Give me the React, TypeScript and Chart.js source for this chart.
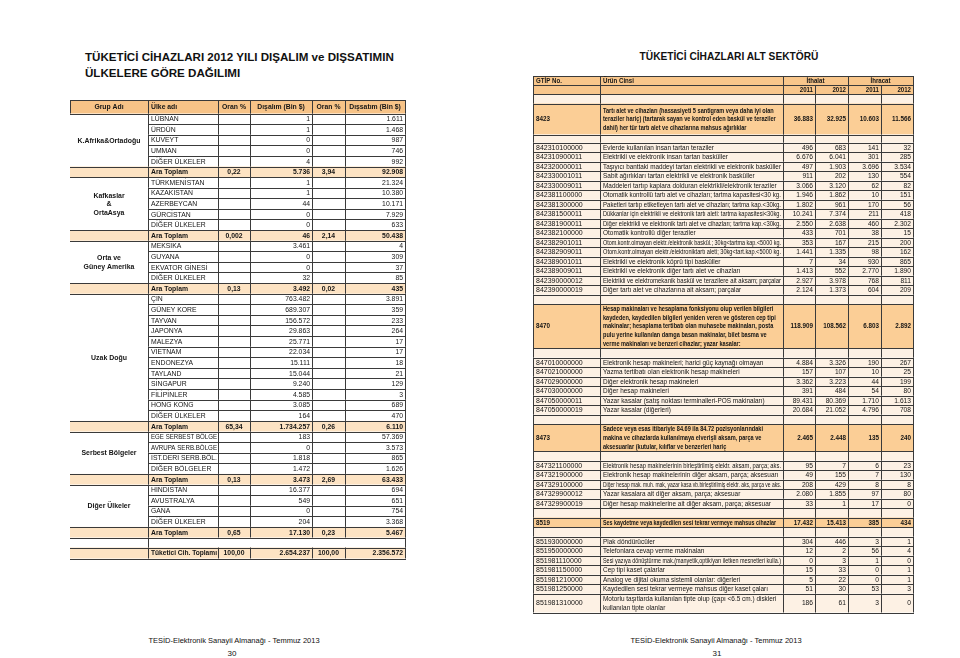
import React, { useEffect, useRef } from 'react';
import { Chart, registerables } from 'chart.js';
Chart.register(...registerables);

const FONT = '"Liberation Sans", Arial, Helvetica, sans-serif';

// ---------------- Left table data ----------------
const leftHeaders = ['Grup Adı', 'Ülke adı', 'Oran %', 'Dışalım (Bin $)', 'Oran %', 'Dışsatım (Bin $)'];
const groupLabels = [['K.Afrika&Ortadoğu'], ['Kafkaslar', '&', 'OrtaAsya'], ['Orta ve', 'Güney Amerika'], ['Uzak Doğu'], ['Serbest Bölgeler'], ['Diğer Ülkeler']];

const g1Countries = ['LÜBNAN', 'ÜRDÜN', 'KUVEYT', 'UMMAN', 'DİĞER ÜLKELER'];
const g1Import = [1, 1, 0, 0, 4];
const g1Export = [1611, 1468, 987, 746, 992];

const g2Countries = ['TÜRKMENİSTAN', 'KAZAKİSTAN', 'AZERBEYCAN', 'GÜRCİSTAN', 'DİĞER ÜLKELER'];
const g2Import = [1, 1, 44, 0, 0];
const g2Export = [21324, 10380, 10171, 7929, 633];

const g3Countries = ['MEKSİKA', 'GUYANA', 'EKVATOR GİNESİ', 'DİĞER ÜLKELER'];
const g3Import = [3461, 0, 0, 32];
const g3Export = [4, 309, 37, 85];

const g4Countries = ['ÇİN', 'GÜNEY KORE', 'TAYVAN', 'JAPONYA', 'MALEZYA', 'VİETNAM', 'ENDONEZYA', 'TAYLAND', 'SİNGAPUR', 'FİLİPİNLER', 'HONG KONG', 'DİĞER ÜLKELER'];
const g4Import = [763482, 689307, 156572, 29863, 25771, 22034, 15111, 15044, 9240, 4585, 3085, 164];
const g4Export = [3891, 359, 233, 264, 17, 17, 18, 21, 129, 3, 689, 470];

const g5Countries = ['EGE SERBEST BÖLGE', 'AVRUPA SERB.BÖLGE', 'İST.DERİ SERB.BÖL.', 'DİĞER BÖLGELER'];
const g5Import = [183, 0, 1818, 1472];
const g5Export = [57369, 3573, 865, 1626];

const g6Countries = ['HİNDİSTAN', 'AVUSTRALYA', 'GANA', 'DİĞER ÜLKELER'];
const g6Import = [16377, 549, 0, 204];
const g6Export = [694, 651, 754, 3368];

const subtotalLabel = 'Ara Toplam';
const subImportShare = [0.22, 0.002, 0.13, 65.34, 0.13, 0.65];
const subImport = [5736, 46, 3492, 1734257, 3473, 17130];
const subExportShare = [3.94, 2.14, 0.02, 0.26, 2.69, 0.23];
const subExport = [92908, 50438, 435, 6110, 63433, 5467];

const totalLabel = 'Tüketici Cih. Toplamı';
const totalImportShare = 100;
const totalImport = 2654237;
const totalExportShare = 100;
const totalExport = 2356572;

// ---------------- Right table data ----------------
const rightHeaders = ['GTİP No.', 'Ürün Cinsi', 'İthalat', 'İhracat'];
const yearLabels = ['2011', '2012', '2011', '2012'];

const sectionCodes = ['8423', '8470', '8473', '8519'];
const sectionTitles = [
  ['Tartı alet ve cihazları (hassasiyeti 5 santigram veya daha iyi olan', 'teraziler hariç) (tartarak sayan ve kontrol eden baskül ve teraziler', 'dahil) her tür tartı alet ve cihazlarına mahsus ağırlıklar'],
  ['Hesap makinaları ve hesaplama fonksiyonu olup verilen bilgileri', 'kaydeden, kaydedilen bilgileri yeniden veren ve gösteren cep tipi', 'makinalar; hesaplama tertibatı olan muhasebe makinaları, posta', 'pulu yerine kullanılan damga basan makinalar, bilet basma ve', 'verme makinaları ve benzeri cihazlar; yazar kasalar:'],
  ['Sadece veya esas itibariyle 84.69 ila 84.72 pozisyonlarındaki', 'makina ve cihazlarda kullanılmaya elverişli aksam, parça ve', 'aksesuarlar (kutular, kılıflar ve benzerleri hariç'],
  ['Ses kaydetme veya kaydedilen sesi tekrar vermeye mahsus cihazlar'],
];
const sectionImp2011 = [36883, 118909, 2465, 17432];
const sectionImp2012 = [32925, 108562, 2448, 15413];
const sectionExp2011 = [10603, 6803, 135, 385];
const sectionExp2012 = [11566, 2892, 240, 434];

const s8423Codes = ['842310100000', '842310900011', '842320000011', '842330001011', '842330009011', '842381100000', '842381300000', '842381500011', '842381900011', '842382100000', '842382901011', '842382909011', '842389001011', '842389009011', '842390000012', '842390000019'];
const s8423Names = [
  'Evlerde kullanılan insan tartan teraziler',
  'Elektrikli ve elektronik insan tartan basküller',
  'Taşıyıcı banttaki maddeyi tartan elektrikli ve elektronik basküller',
  'Sabit ağırlıkları tartan elektrikli ve elektronik basküller',
  'Maddeleri tartıp kaplara dolduran elektrikli/elektronik teraziler',
  'Otomatik kontrollü tartı alet ve cihazları; tartma kapasitesi<30 kg.',
  'Paketleri tartıp etiketleyen tartı alet ve cihazları; tartma kap.<30kg.',
  'Dükkanlar için elektrikli ve elektronik tartı aleti: tartma kapasitesi<30kg.',
  'Diğer elektrikli ve elektronik tartı alet ve cihazları; tartma kap.<30kg.',
  'Otomatik kontrollü diğer teraziler',
  'Otom.kontr.olmayan elektr./elektronik baskül.; 30kg<tartma kap.<5000 kg.',
  'Otom.kontr.olmayan elektr./elektroniktartı aleti; 30kg<tart.kap.<5000 kg.',
  'Elektrikli ve elektronik köprü tipi basküller',
  'Elektrikli ve elektronik diğer tartı alet ve cihazları',
  'Elektrikli ve elektromekanik baskül ve terazilere ait aksam; parçalar',
  'Diğer tartı alet ve cihazlarına ait aksam; parçalar',
];
const s8423Imp2011 = [496, 6676, 497, 911, 3066, 1946, 1802, 10241, 2550, 433, 353, 1441, 7, 1413, 2927, 2124];
const s8423Imp2012 = [683, 6041, 1903, 202, 3120, 1862, 961, 7374, 2638, 701, 167, 1335, 34, 552, 3978, 1373];
const s8423Exp2011 = [141, 301, 3696, 130, 62, 10, 170, 211, 460, 38, 215, 98, 930, 2770, 768, 604];
const s8423Exp2012 = [32, 285, 3534, 554, 82, 151, 56, 418, 2302, 15, 200, 162, 865, 1890, 811, 209];

const s8470Codes = ['847010000000', '847021000000', '847029000000', '847030000000', '847050000011', '847050000019'];
const s8470Names = [
  'Elektronik hesap makineleri; harici güç kaynağı olmayan',
  'Yazma tertibatı olan elektronik hesap makineleri',
  'Diğer elektronik hesap makineleri',
  'Diğer hesap makineleri',
  'Yazar kasalar (satış noktası terminalleri-POS makinaları)',
  'Yazar kasalar (diğerleri)',
];
const s8470Imp2011 = [4884, 157, 3362, 391, 89431, 20684];
const s8470Imp2012 = [3326, 107, 3223, 484, 80369, 21052];
const s8470Exp2011 = [190, 10, 44, 54, 1710, 4796];
const s8470Exp2012 = [267, 25, 199, 80, 1613, 708];

const s8473Codes = ['847321100000', '847321900000', '847329100000', '847329900012', '847329900019'];
const s8473Names = [
  'Elektronik hesap makinelerinin birleştirilmiş elektr. aksam, parça; aks.',
  'Elektronik hesap makinelerinin diğer aksam, parça; aksesuarı',
  'Diğer hesap mak. muh. mak, yazar kasa vb.birleştirilmiş elektr. aks, parça ve aks.',
  'Yazar kasalara ait diğer aksam, parça; aksesuar',
  'Diğer hesap makinelerine ait diğer aksam, parça; aksesuar',
];
const s8473Imp2011 = [95, 49, 208, 2080, 33];
const s8473Imp2012 = [7, 155, 429, 1855, 1];
const s8473Exp2011 = [6, 7, 8, 97, 17];
const s8473Exp2012 = [23, 130, 8, 80, 0];

const s8519Codes = ['851930000000', '851950000000', '851981110000', '851981150000', '851981210000', '851981250000', '851981310000'];
const s8519Names = [
  'Plak döndürücüler',
  'Telefonlara cevap verme makinaları',
  'Sesi yazıya dönüştürme mak.(manyetik,optik/yarı iletken mesnetleri kulla.)',
  'Cep tipi kaset çalarlar',
  'Analog ve dijital okuma sistemli olanlar: diğerleri',
  'Kaydedilen sesi tekrar vermeye mahsus diğer kaset çaları',
  'Motorlu taşıtlarda kullanılan tipte olup (çapı <6.5 cm.) diskleri\nkullanılan tipte olanlar',
];
const s8519Imp2011 = [304, 12, 0, 15, 5, 51, 186];
const s8519Imp2012 = [446, 2, 3, 33, 22, 30, 61];
const s8519Exp2011 = [3, 56, 1, 0, 0, 53, 3];
const s8519Exp2012 = [1, 4, 0, 1, 1, 3, 0];

// ---------------- Formatting ----------------
const fmtInt = (n: number) => String(n).replace(/\B(?=(\d{3})+(?!\d))/g, '.');
const fmtPct = (n: number) => (n < 0.01 ? n.toFixed(3) : n.toFixed(2)).replace('.', ',');

// ---------------- Styles / layout ----------------
const L_LEFT = 70, L_TOP = 99.5;
const L_COLS = [78, 70, 32, 62, 33, 60];
const L_HEAD_H = 13.5, L_ROW_H = 10.6, L_BLANK_H = 10, L_TOTAL_H = 11;
const L_HEAD_FILL = '#f7c387';
const L_SUB_FILL = '#fde3c3';

const R_LEFT = 533, R_TOP = 75.5;
const R_COLS = [67, 183, 32, 33, 33, 32];
const R_ROW_H = 9.5;
const R_HEAD_FILL = '#f8c68b';
const R_CAT_FILL = '#fbce96';
const R_CREAM = '#fdf1e4';
const LINE = '#3a3a3a';
const INK = '#141414';

type Align = 'left' | 'center' | 'right';

function drawText(ctx: CanvasRenderingContext2D, s: string, x: number, y: number, align: Align, font: string, sx = 1, maxW = 0) {
  ctx.save();
  ctx.font = font;
  ctx.fillStyle = INK;
  ctx.textBaseline = 'middle';
  ctx.textAlign = align;
  ctx.translate(x, y);
  let k = sx;
  const w = ctx.measureText(s).width * sx;
  if (maxW > 0 && w > maxW) k = sx * (maxW / w);
  ctx.scale(k, 1);
  ctx.fillText(s, 0, 0);
  ctx.restore();
}

function edges(cols: number[]) {
  const e = [0];
  cols.forEach((c) => e.push(e[e.length - 1] + c));
  return e;
}

// ---------------- Build left rows ----------------
type LRow = { kind: 'head' | 'data' | 'sub' | 'blank' | 'total'; h: number; cells: string[]; group?: number };
const groups = [
  { c: g1Countries, i: g1Import, e: g1Export },
  { c: g2Countries, i: g2Import, e: g2Export },
  { c: g3Countries, i: g3Import, e: g3Export },
  { c: g4Countries, i: g4Import, e: g4Export },
  { c: g5Countries, i: g5Import, e: g5Export },
  { c: g6Countries, i: g6Import, e: g6Export },
];
const leftRows: LRow[] = [];
leftRows.push({ kind: 'head', h: L_HEAD_H, cells: leftHeaders });
groups.forEach((g, gi) => {
  g.c.forEach((name, k) => leftRows.push({ kind: 'data', h: L_ROW_H, cells: ['', name, '', fmtInt(g.i[k]), '', fmtInt(g.e[k])], group: gi }));
  leftRows.push({ kind: 'sub', h: L_ROW_H, cells: ['', subtotalLabel, fmtPct(subImportShare[gi]), fmtInt(subImport[gi]), fmtPct(subExportShare[gi]), fmtInt(subExport[gi])] });
});
leftRows.push({ kind: 'blank', h: L_BLANK_H, cells: [] });
leftRows.push({ kind: 'total', h: L_TOTAL_H, cells: ['', totalLabel, fmtPct(totalImportShare), fmtInt(totalImport), fmtPct(totalExportShare), fmtInt(totalExport)] });

// ---------------- Build right rows ----------------
type RRow = { kind: 'h1' | 'h2' | 'blank' | 'cat' | 'detail'; h: number; cells: (string | string[])[] };
const sections = [
  { codes: s8423Codes, names: s8423Names, a: s8423Imp2011, b: s8423Imp2012, c: s8423Exp2011, d: s8423Exp2012 },
  { codes: s8470Codes, names: s8470Names, a: s8470Imp2011, b: s8470Imp2012, c: s8470Exp2011, d: s8470Exp2012 },
  { codes: s8473Codes, names: s8473Names, a: s8473Imp2011, b: s8473Imp2012, c: s8473Exp2011, d: s8473Exp2012 },
  { codes: s8519Codes, names: s8519Names, a: s8519Imp2011, b: s8519Imp2012, c: s8519Exp2011, d: s8519Exp2012 },
];
const catHeights = [31, 44, 27, 9.5];
const rightRows: RRow[] = [];
rightRows.push({ kind: 'h1', h: 9.2, cells: [rightHeaders[0], rightHeaders[1], rightHeaders[2], '', rightHeaders[3], ''] });
rightRows.push({ kind: 'h2', h: 9, cells: ['', '', ...yearLabels] });
sections.forEach((s, si) => {
  rightRows.push({ kind: 'blank', h: si === 0 ? 9.3 : R_ROW_H, cells: [] });
  rightRows.push({ kind: 'cat', h: catHeights[si], cells: [sectionCodes[si], sectionTitles[si], fmtInt(sectionImp2011[si]), fmtInt(sectionImp2012[si]), fmtInt(sectionExp2011[si]), fmtInt(sectionExp2012[si])] });
  rightRows.push({ kind: 'blank', h: si === 0 ? 8 : R_ROW_H, cells: [] });
  s.codes.forEach((code, k) => {
    const lines = s.names[k].split('\n');
    rightRows.push({ kind: 'detail', h: R_ROW_H * lines.length, cells: [code, lines, fmtInt(s.a[k]), fmtInt(s.b[k]), fmtInt(s.c[k]), fmtInt(s.d[k])] });
  });
});

// ---------------- Drawing ----------------
function rowPixels(chart: any, rows: { h: number }[]) {
  const ys = chart.scales.y;
  let acc = 0;
  return rows.map((r) => {
    const y0 = ys.getPixelForValue(acc);
    acc += r.h;
    return [y0, ys.getPixelForValue(acc)];
  });
}

function hLine(ctx: CanvasRenderingContext2D, x0: number, x1: number, y: number) {
  const yy = Math.round(y) + 0.5;
  ctx.beginPath(); ctx.moveTo(x0, yy); ctx.lineTo(x1, yy); ctx.stroke();
}
function vLine(ctx: CanvasRenderingContext2D, x: number, y0: number, y1: number) {
  const xx = Math.round(x) + 0.5;
  ctx.beginPath(); ctx.moveTo(xx, y0); ctx.lineTo(xx, y1); ctx.stroke();
}

function drawLeft(chart: any) {
  const ctx: CanvasRenderingContext2D = chart.ctx;
  const xs = chart.scales.x;
  const X = edges(L_COLS).map((v) => xs.getPixelForValue(v));
  const P = rowPixels(chart, leftRows);
  ctx.save();
  leftRows.forEach((r, i) => {
    const [y0, y1] = P[i];
    if (r.kind === 'head') { ctx.fillStyle = L_HEAD_FILL; ctx.fillRect(X[0], y0, X[6] - X[0], y1 - y0); }
    if (r.kind === 'sub' || r.kind === 'total') { ctx.fillStyle = L_SUB_FILL; ctx.fillRect(X[0], y0, X[6] - X[0], y1 - y0); }
  });
  ctx.strokeStyle = LINE; ctx.lineWidth = 1;
  leftRows.forEach((r, i) => {
    const [y0, y1] = P[i];
    if (r.kind === 'head') {
      hLine(ctx, X[0], X[6] + 1, y0); hLine(ctx, X[0], X[6] + 1, y1);
      for (let c = 0; c <= 6; c++) vLine(ctx, X[c], y0, y1);
    } else if (r.kind === 'data' || r.kind === 'sub' || r.kind === 'total') {
      hLine(ctx, r.kind === 'data' ? X[1] : X[0], X[6] + 1, y0);
      hLine(ctx, r.kind === 'data' ? X[1] : X[0], X[6] + 1, y1);
      for (let c = 1; c <= 6; c++) vLine(ctx, X[c], y0, y1);
    } else if (r.kind === 'blank') {
      vLine(ctx, X[1], y0, y1);
      vLine(ctx, X[6], y0, y1);
    }
  });
  const aligns: Align[] = ['center', 'left', 'center', 'right', 'center', 'right'];
  leftRows.forEach((r, i) => {
    const [y0, y1] = P[i];
    const ym = (y0 + y1) / 2 + 0.5;
    r.cells.forEach((t, c) => {
      if (!t) return;
      let a = aligns[c];
      if (r.kind === 'head') a = c === 1 ? 'left' : 'center';
      const x = a === 'left' ? X[c] + 3 : a === 'right' ? X[c + 1] - 2 : (X[c] + X[c + 1]) / 2;
      const font = r.kind === 'data' ? `7.2px ${FONT}` : `bold 7.2px ${FONT}`;
      drawText(ctx, t, x, ym, a, font, 0.95, X[c + 1] - X[c] - 4);
    });
  });
  groupLabels.forEach((lab, gi) => {
    const idx = leftRows.map((r, i) => (r.group === gi ? i : -1)).filter((i) => i >= 0);
    const top = P[idx[0]][0];
    const bot = P[idx[idx.length - 1]][1];
    const cy = (top + bot) / 2 + 0.5;
    const lh = 8.5;
    lab.forEach((s, k) => {
      drawText(ctx, s, (X[0] + X[1]) / 2, cy + (k - (lab.length - 1) / 2) * lh, 'center', `bold 7.3px ${FONT}`, 0.95);
    });
  });
  ctx.restore();
}

function drawRight(chart: any) {
  const ctx: CanvasRenderingContext2D = chart.ctx;
  const xs = chart.scales.x;
  const X = edges(R_COLS).map((v) => xs.getPixelForValue(v));
  const P = rowPixels(chart, rightRows);
  ctx.save();
  rightRows.forEach((r, i) => {
    const [y0, y1] = P[i];
    ctx.fillStyle = r.kind === 'h1' || r.kind === 'h2' ? R_HEAD_FILL : r.kind === 'cat' ? R_CAT_FILL : R_CREAM;
    ctx.fillRect(X[0], y0, X[6] - X[0], y1 - y0);
  });
  ctx.strokeStyle = LINE; ctx.lineWidth = 1;
  rightRows.forEach((r, i) => {
    const [y0, y1] = P[i];
    hLine(ctx, X[0], X[6] + 1, y0);
    if (i === rightRows.length - 1) hLine(ctx, X[0], X[6] + 1, y1);
    for (let c = 0; c <= 6; c++) {
      if (r.kind === 'h1' && (c === 3 || c === 5)) continue;
      vLine(ctx, X[c], y0, y1);
    }
  });
  rightRows.forEach((r, i) => {
    const [y0, y1] = P[i];
    const ym = (y0 + y1) / 2 + 0.5;
    if (r.kind === 'h1') {
      const f = `bold 6.8px ${FONT}`;
      drawText(ctx, r.cells[0] as string, X[0] + 3, ym, 'left', f, 0.9);
      drawText(ctx, r.cells[1] as string, X[1] + 3, ym, 'left', f, 0.9);
      drawText(ctx, r.cells[2] as string, (X[2] + X[4]) / 2, ym, 'center', f, 0.9);
      drawText(ctx, r.cells[4] as string, (X[4] + X[6]) / 2, ym, 'center', f, 0.9);
    } else if (r.kind === 'h2') {
      for (let c = 2; c < 6; c++) drawText(ctx, r.cells[c] as string, X[c + 1] - 2, ym, 'right', `bold 6.8px ${FONT}`, 0.9);
    } else if (r.kind === 'cat') {
      const f = `bold 7px ${FONT}`;
      drawText(ctx, r.cells[0] as string, X[0] + 3, ym, 'left', f, 0.9);
      const lines = r.cells[1] as string[];
      const lh = 8.8;
      lines.forEach((s, k) => drawText(ctx, s, X[1] + 3, ym + (k - (lines.length - 1) / 2) * lh, 'left', f, 0.8, X[2] - X[1] - 10));
      for (let c = 2; c < 6; c++) drawText(ctx, r.cells[c] as string, X[c + 1] - 2, ym, 'right', f, 0.9);
    } else if (r.kind === 'detail') {
      const f = `7px ${FONT}`;
      drawText(ctx, r.cells[0] as string, X[0] + 3, ym, 'left', f, 1, X[1] - X[0] - 5);
      const lines = r.cells[1] as string[];
      lines.forEach((s, k) => drawText(ctx, s, X[1] + 3, ym + (k - (lines.length - 1) / 2) * R_ROW_H, 'left', f, 0.92, X[2] - X[1] - 5));
      for (let c = 2; c < 6; c++) drawText(ctx, r.cells[c] as string, X[c + 1] - 2, ym, 'right', f, 0.95);
    }
  });
  ctx.restore();
}

// ---------------- Chart component ----------------
function TableChart(props: { left: number; top: number; cols: number[]; rows: { h: number }[]; draw: (c: any) => void; id: string }) {
  const ref = useRef<HTMLCanvasElement | null>(null);
  const totalW = props.cols.reduce((a, b) => a + b, 0);
  const totalH = props.rows.reduce((a, b) => a + b.h, 0);
  const W = Math.ceil(totalW) + 3;
  const H = Math.ceil(totalH) + 3;
  useEffect(() => {
    if (!ref.current) return;
    const plugin = { id: props.id, afterDraw: (chart: any) => props.draw(chart) };
    const chart = new Chart(ref.current, {
      type: 'scatter',
      data: { datasets: [] },
      options: {
        responsive: false,
        maintainAspectRatio: false,
        animation: false,
        devicePixelRatio: 1,
        events: [],
        layout: { padding: { left: 1, top: 1, right: W - totalW - 1, bottom: H - totalH - 1 } },
        plugins: { legend: { display: false }, tooltip: { enabled: false }, title: { display: false } },
        scales: {
          x: { type: 'linear', min: 0, max: totalW, display: false },
          y: { type: 'linear', min: 0, max: totalH, reverse: true, display: false },
        },
      } as any,
      plugins: [plugin],
    });
    return () => chart.destroy();
  }, []);
  return <canvas ref={ref} width={W} height={H} style={{ position: 'absolute', left: props.left - 1, top: props.top - 1, width: W, height: H }} />;
}

const txtStyle = (extra: React.CSSProperties): React.CSSProperties => ({
  position: 'absolute', fontFamily: FONT, color: '#111', whiteSpace: 'nowrap', margin: 0, ...extra,
});

export default function App() {
  return (
    <div style={{ position: 'absolute', left: 0, top: 0, width: 960, height: 658, background: '#ffffff', overflow: 'hidden' }}>
      <div style={txtStyle({ left: 85, top: 49, fontSize: 11.6, fontWeight: 'bold', lineHeight: '16px' })}>
        TÜKETİCİ CİHAZLARI 2012 YILI DIŞALIM ve DIŞSATIMIN<br />ÜLKELERE GÖRE DAĞILIMI
      </div>
      <div style={txtStyle({ left: 529, width: 400, textAlign: 'center', top: 50, fontSize: 10.2, fontWeight: 'bold', lineHeight: '14px' })}>
        TÜKETİCİ CİHAZLARI ALT SEKTÖRÜ
      </div>
      <TableChart id="leftTable" left={L_LEFT} top={L_TOP} cols={L_COLS} rows={leftRows} draw={drawLeft} />
      <TableChart id="rightTable" left={R_LEFT} top={R_TOP} cols={R_COLS} rows={rightRows} draw={drawRight} />
      <div style={txtStyle({ left: 34, width: 400, textAlign: 'center', top: 636, fontSize: 7.5, lineHeight: '10px' })}>
        TESİD-Elektronik Sanayii Almanağı - Temmuz 2013
      </div>
      <div style={txtStyle({ left: 32, width: 400, textAlign: 'center', top: 649, fontSize: 8, lineHeight: '10px' })}>30</div>
      <div style={txtStyle({ left: 516, width: 400, textAlign: 'center', top: 636, fontSize: 7.5, lineHeight: '10px' })}>
        TESİD-Elektronik Sanayii Almanağı - Temmuz 2013
      </div>
      <div style={txtStyle({ left: 517, width: 400, textAlign: 'center', top: 649, fontSize: 8, lineHeight: '10px' })}>31</div>
    </div>
  );
}
